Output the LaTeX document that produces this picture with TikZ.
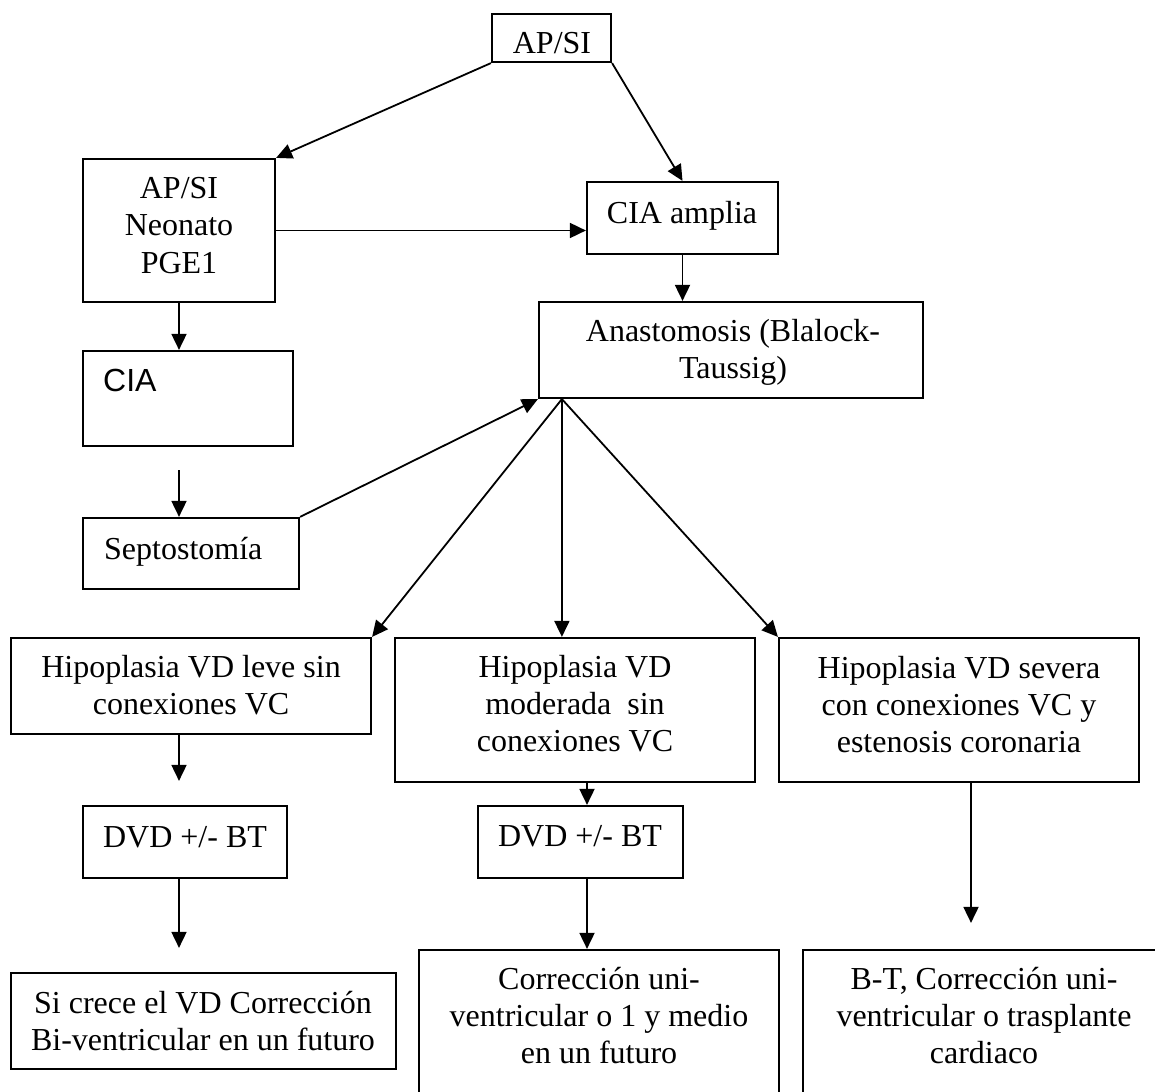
\documentclass[tikz,border=0pt]{standalone}
\usepackage{fontspec}
\setmainfont{Liberation Serif}
\newfontfamily\arialfont{Liberation Sans}
\usetikzlibrary{arrows.meta}
\begin{document}
\begin{tikzpicture}[x=1pt,y=-1pt,
  box/.style={draw,line width=2.2pt,inner sep=0pt},
  txt/.style={font=\fontsize{32}{37}\selectfont,align=center,inner sep=0pt},
  arr/.style={line width=1.8pt,-{Triangle[length=16pt,width=15pt]}}]
\path[use as bounding box,clip] (0,0) rectangle (1155,1091);
\fill[white] (0,0) rectangle (1155,1091);
% boxes
\node[box,minimum width=119pt,minimum height=48pt]  (top)   at (551.5,38)   {};
\node[box,minimum width=192pt,minimum height=143pt] (neo)   at (179,230.5)  {};
\node[box,minimum width=191pt,minimum height=72pt]  (ciaA)  at (682.5,218)  {};
\node[box,minimum width=384pt,minimum height=96pt]  (anast) at (731,350)    {};
\node[box,minimum width=210pt,minimum height=95pt]  (cia)   at (188,398.5)  {};
\node[box,minimum width=216pt,minimum height=71pt]  (sept)  at (191,553.5)  {};
\node[box,minimum width=360pt,minimum height=96pt]  (hl)    at (191,686)    {};
\node[box,minimum width=360pt,minimum height=144pt] (hm)    at (575,710)    {};
\node[box,minimum width=360pt,minimum height=144pt] (hs)    at (959,710)    {};
\node[box,minimum width=204pt,minimum height=72pt]  (dl)    at (185,842)    {};
\node[box,minimum width=205pt,minimum height=72pt]  (dm)    at (580.5,842)  {};
\node[box,minimum width=385pt,minimum height=96pt]  (sc)    at (203.5,1021) {};
\node[box,minimum width=360pt,minimum height=180pt] (cm)    at (599,1040)   {};
\node[box,minimum width=362pt,minimum height=180pt] (bt)    at (984,1040)   {};
% texts
\begin{scope}
\clip (top.north west) rectangle ([yshift=10pt]top.south east);
\node[txt] (tTop) at (552,46.6) {\strut AP/SI\strut};
\end{scope}
\node[txt] (tNeo)   at (179,228.6)  {\strut AP/SI\\Neonato\\PGE1\strut};
\node[txt] (tCiaA)  at (682,215.6)  {\strut CIA amplia\strut};
\node[txt] (tAnast) at (733,352.6)  {\strut Anastomosis (Blalock-\\Taussig)\strut};
\node[txt,font=\arialfont\fontsize{32}{37}\selectfont,anchor=base west] (tCia) at (103,391) {CIA};
\node[txt,anchor=base west] (tSept) at (104,559) {Septostomía};
\node[txt] (tHl) at (191,688.6) {\strut Hipoplasia VD leve sin\\conexiones VC\strut};
\node[txt] (tHm) at (575,707.1) {\strut Hipoplasia VD\\moderada~~sin\\conexiones VC\strut};
\node[txt] (tHs) at (959,707.6) {\strut Hipoplasia VD severa\\con conexiones VC y\\estenosis coronaria\strut};
\node[txt] (tDl) at (185,839.6) {\strut DVD +/- BT\strut};
\node[txt] (tDm) at (580,838.6) {\strut DVD +/- BT\strut};
\node[txt] (tSc) at (203,1024.1) {\strut Si crece el VD Corrección\\Bi-ventricular en un futuro\strut};
\node[txt] (tCm) at (599,1019.1) {\strut Corrección uni-\\ventricular o 1 y medio\\en un futuro\strut};
\node[txt] (tBt) at (984,1019.1) {\strut B-T, Corrección uni-\\ventricular o trasplante\\cardiaco\strut};
% connectors
\draw[arr] (top.south west) -- (neo.north east);
\draw[arr] (top.south east) -- (ciaA.north);
\draw[arr] (neo.east) -- (neo.east -| ciaA.west);
\draw[arr] (ciaA.south) -- (ciaA.south |- anast.north);
\draw[arr] (neo.south) -- (neo.south |- cia.north);
\draw[arr] ([yshift=-23pt]neo.south |- cia.south) -- (neo.south |- sept.north);
\draw[arr] (sept.north east) -- (anast.south west);
\coordinate (fan) at ([xshift=24pt]anast.south west);
\draw[arr] (fan) -- (hl.north east);
\draw[arr] (fan) -- (fan |- hm.north);
\draw[arr] (fan) -- (hs.north west);
\draw[arr] (neo.south |- hl.south) -- ([yshift=24pt]neo.south |- dl.north);
\draw[arr] (neo.south |- dl.south) -- ([yshift=24pt]neo.south |- sc.north);
\draw[arr] ([xshift=12pt]hm.south) -- ([xshift=12pt]hm.south |- dm.north);
\draw[arr] ([xshift=12pt]hm.south |- dm.south) -- ([xshift=12pt]hm.south |- cm.north);
\draw[arr] ([xshift=12pt]hs.south) -- ([xshift=12pt,yshift=26pt]hs.south |- bt.north);
\end{tikzpicture}
\end{document}
